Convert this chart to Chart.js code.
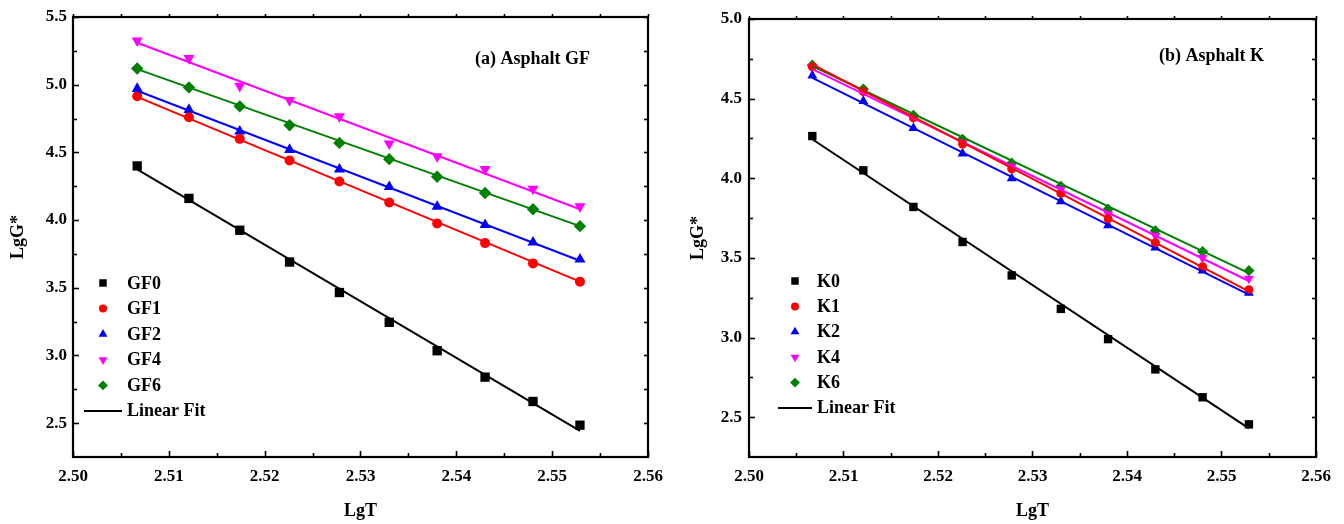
<!DOCTYPE html>
<html><head><meta charset="utf-8">
<script src="https://cdn.jsdelivr.net/npm/chart.js@4/dist/chart.umd.min.js"></script>
<style>
html,body{margin:0;padding:0;background:#fff;}
#wrap{position:relative;width:1344px;height:524px;overflow:hidden;}
.c{position:absolute;top:0;height:524px;width:672px;}
#ca{left:0;} #cb{left:672px;}
</style></head><body>
<div id="wrap"><div class="c" id="ca"><canvas id="a"></canvas></div><div class="c" id="cb"><canvas id="b"></canvas></div></div>
<script>
// ---- data ----
const lgT = [2.5067, 2.5121, 2.5174, 2.5226, 2.5278, 2.5330, 2.5380, 2.5430, 2.5480, 2.5529];
const xTicks = [2.50, 2.51, 2.52, 2.53, 2.54, 2.55, 2.56];
const yTicksA = [2.5, 3.0, 3.5, 4.0, 4.5, 5.0, 5.5];
const yTicksB = [2.5, 3.0, 3.5, 4.0, 4.5, 5.0];

const GF0 = [4.40, 4.16, 3.925, 3.69, 3.465, 3.245, 3.035, 2.84, 2.66, 2.485];
const GF1 = [4.915, 4.76, 4.60, 4.44, 4.285, 4.13, 3.975, 3.83, 3.68, 3.545];
const GF2 = [4.97, 4.815, 4.655, 4.52, 4.375, 4.245, 4.10, 3.965, 3.835, 3.71];
const GF4 = [5.325, 5.195, 4.99, 4.885, 4.765, 4.565, 4.47, 4.375, 4.23, 4.10];
const GF6 = [5.12, 4.98, 4.84, 4.70, 4.57, 4.45, 4.32, 4.20, 4.08, 3.955];
// linear fit end values (at first and last LgT)
const GF0fit = [4.375, 2.443];
const GF1fit = [4.910, 3.545];
const GF2fit = [4.955, 3.700];
const GF4fit = [5.310, 4.080];
const GF6fit = [5.115, 3.955];

const K0 = [4.265, 4.05, 3.82, 3.60, 3.39, 3.18, 2.99, 2.80, 2.625, 2.455];
const K1 = [4.70, 4.545, 4.38, 4.215, 4.06, 3.905, 3.745, 3.595, 3.445, 3.30];
const K2 = [4.645, 4.485, 4.315, 4.155, 4.00, 3.855, 3.705, 3.565, 3.42, 3.28];
const K4 = [4.70, 4.545, 4.38, 4.225, 4.075, 3.93, 3.775, 3.64, 3.50, 3.37];
const K6 = [4.71, 4.56, 4.395, 4.245, 4.095, 3.95, 3.805, 3.67, 3.54, 3.42];
const K0fit = [4.245, 2.430];
const K1fit = [4.715, 3.290];
const K2fit = [4.630, 3.270];
const K4fit = [4.685, 3.355];
const K6fit = [4.705, 3.405];

const seriesA = ['GF0', 'GF1', 'GF2', 'GF4', 'GF6'];
const seriesB = ['K0', 'K1', 'K2', 'K4', 'K6'];

// ---- styles ----
const FAMILY = '"Liberation Serif", "Times New Roman", serif';
const styles = [
  {color:'#000000', pointStyle:'rect', rotation:0, radius:6.6},
  {color:'#ff0000', pointStyle:'circle', rotation:0, radius:5.0},
  {color:'#0000ff', pointStyle:'triangle', rotation:0, radius:6.4},
  {color:'#ff00ff', pointStyle:'triangle', rotation:180, radius:6.4},
  {color:'#008000', pointStyle:'rectRot', rotation:0, radius:6.2}
];

function pts(ys){ return lgT.map((x,i)=>({x:x, y:ys[i]})); }
function fitPts(f){ return [{x:lgT[0], y:f[0]}, {x:lgT[lgT.length-1], y:f[1]}]; }

function buildDatasets(names, vals, fits, scale){
  const ds = [];
  names.forEach((n,i)=>{
    const s = styles[i];
    ds.push({label:n+' fit', data:fitPts(fits[i]), showLine:true, pointRadius:0, borderColor:s.color, borderWidth:2, backgroundColor:s.color, fill:false, tension:0});
  });
  names.forEach((n,i)=>{
    const s = styles[i];
    ds.push({label:n, data:pts(vals[i]), showLine:false, pointStyle:s.pointStyle, rotation:s.rotation,
      pointRadius:s.radius*scale, pointHoverRadius:s.radius*scale, backgroundColor:s.color, borderColor:s.color, borderWidth:0, pointBorderWidth:0});
  });
  return ds;
}

const framePlugin = {
  id:'frame',
  afterDraw(chart, args, o){
    const {ctx, chartArea:{left,right,top,bottom}, scales:{x,y}} = chart;
    const yT = o.yTicks;
    ctx.save();
    ctx.strokeStyle = '#000';
    ctx.lineCap = 'butt';
    const line = (x1,y1,x2,y2)=>{ctx.beginPath();ctx.moveTo(x1,y1);ctx.lineTo(x2,y2);ctx.stroke();};
    ctx.lineWidth = 1.6;
    const xs = [];
    for (let i=0;i<xTicks.length;i++){ xs.push([xTicks[i],true]); if(i<xTicks.length-1) xs.push([(xTicks[i]+xTicks[i+1])/2,false]); }
    xs.forEach(([v,maj])=>{
      const px = Math.round(x.getPixelForValue(v))+0.5;
      line(px, bottom, px, bottom-(maj?6:4));
      line(px, top, px, top-3);
    });
    const ys = [];
    for (let i=0;i<yT.length;i++){ ys.push([yT[i],true]); if(i<yT.length-1) ys.push([(yT[i]+yT[i+1])/2,false]); }
    ys.forEach(([v,maj])=>{
      const py = Math.round(y.getPixelForValue(v))+0.5;
      line(left, py, left+(maj?6:4), py);
      line(right, py, right-4, py);
    });
    ctx.lineWidth = 2.2;
    ctx.strokeRect(left, top, right-left, bottom-top);
    ctx.restore();
  }
};

const legendPlugin = {
  id:'myLegend',
  afterDraw(chart, args, o){
    const ctx = chart.ctx;
    ctx.save();
    ctx.font = 'bold 18px ' + FAMILY;
    ctx.textBaseline = 'middle';
    ctx.textAlign = 'left';
    o.names.forEach((n,i)=>{
      const s = styles[i];
      const yy = o.y0 + i*o.dy;
      ctx.fillStyle = s.color; ctx.strokeStyle = s.color;
      Chart.helpers.drawPoint(ctx, {pointStyle:s.pointStyle, rotation:s.rotation, radius:s.radius*0.8, borderWidth:0}, o.mx, yy);
      ctx.fillStyle = '#000';
      ctx.fillText(n, o.tx, yy+1);
    });
    const yy = o.y0 + o.names.length*o.dy;
    ctx.strokeStyle = '#000'; ctx.lineWidth = 2;
    ctx.beginPath(); ctx.moveTo(o.lx0, yy); ctx.lineTo(o.lx1, yy); ctx.stroke();
    ctx.fillStyle = '#000';
    ctx.fillText('Linear Fit', o.tx, yy);
    // annotation
    ctx.font = 'bold 18px ' + FAMILY;
    ctx.textBaseline = 'alphabetic';
    ctx.fillText(o.note, o.nx, o.ny);
    ctx.restore();
  }
};

function makeChart(id, cfg){
  const font = {family:FAMILY, size:17, weight:'bold'};
  return new Chart(document.getElementById(id), {
    type:'scatter',
    data:{datasets:cfg.datasets},
    options:{
      responsive:true, maintainAspectRatio:false, animation:false, devicePixelRatio:1,
      layout:{padding:{left:0, top:cfg.padTop, right:cfg.padRight, bottom:0}},
      plugins:{legend:{display:false}, tooltip:{enabled:false},
        frame:{yTicks:cfg.yTicks},
        myLegend:cfg.legend},
      scales:{
        x:{type:'linear', min:2.50, max:2.56,
          afterBuildTicks:s=>{s.ticks = xTicks.map(v=>({value:v}));},
          afterFit:s=>{s.height = cfg.xAxisH;},
          grid:{display:false, drawTicks:false}, border:{display:false},
          ticks:{font:font, color:'#000', padding:9, maxRotation:0, autoSkip:false, callback:v=>Number(v).toFixed(2)},
          title:{display:true, text:'LgT', color:'#000', font:{family:FAMILY, size:18, weight:'bold'}, padding:{top:0, bottom:2}}},
        y:{type:'linear', min:2.25, max:cfg.yMax,
          afterBuildTicks:s=>{s.ticks = cfg.yTicks.map(v=>({value:v}));},
          afterFit:s=>{s.width = cfg.yAxisW;},
          grid:{display:false, drawTicks:false}, border:{display:false},
          ticks:{font:font, color:'#000', padding:cfg.yPad, autoSkip:false, callback:v=>Number(v).toFixed(1)},
          title:{display:true, text:'LgG*', color:'#000', font:{family:FAMILY, size:18, weight:'bold'}, padding:{top:cfg.yTitlePad, bottom:0}}}
      }
    },
    plugins:[framePlugin, legendPlugin]
  });
}

makeChart('a', {
  datasets: buildDatasets(seriesA, [GF0,GF1,GF2,GF4,GF6], [GF0fit,GF1fit,GF2fit,GF4fit,GF6fit], 1),
  yTicks: yTicksA, yMax:5.5, padTop:17, padRight:24, xAxisH:67, yAxisW:73, yPad:6, yTitlePad:8,
  legend:{names:seriesA, mx:103, tx:127, y0:283, dy:25.6, lx0:84, lx1:122, note:'(a) Asphalt GF', nx:475, ny:64}
});
makeChart('b', {
  datasets: buildDatasets(seriesB, [K0,K1,K2,K4,K6], [K0fit,K1fit,K2fit,K4fit,K6fit], 0.9),
  yTicks: yTicksB, yMax:5.0, padTop:19, padRight:28, xAxisH:67, yAxisW:77, yPad:7, yTitlePad:16,
  legend:{names:seriesB, mx:123, tx:145, y0:281, dy:25.4, lx0:106, lx1:140, note:'(b) Asphalt K', nx:487, ny:61}
});
</script>
</body></html>
